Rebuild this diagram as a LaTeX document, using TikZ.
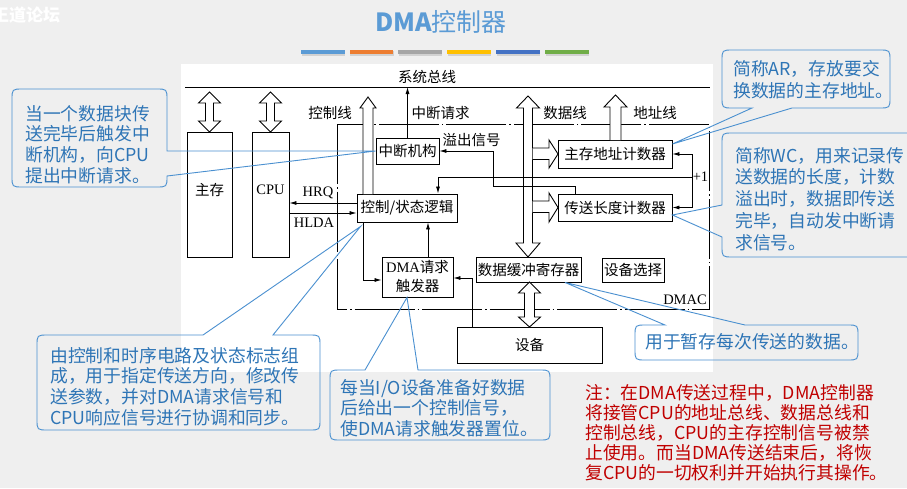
\documentclass[tikz,border=0pt]{standalone}
\usepackage{fontspec}
\setmainfont{Liberation Serif}
\newfontfamily\cjk{Noto Sans CJK SC}
\usetikzlibrary{arrows.meta}
\definecolor{bgc}{HTML}{EFEFEF}
\definecolor{titleblue}{HTML}{5B9BD5}
\definecolor{cbord}{HTML}{4A90D0}
\definecolor{ctext}{HTML}{2E75B6}
\definecolor{notered}{HTML}{C00000}
\definecolor{bar1}{HTML}{5B9BD5}
\definecolor{bar2}{HTML}{ED7D31}
\definecolor{bar3}{HTML}{A5A5A5}
\definecolor{bar4}{HTML}{FFC000}
\definecolor{bar5}{HTML}{4472C4}
\definecolor{bar6}{HTML}{70AD47}
\begin{document}
\begin{tikzpicture}[x=1pt,y=-1pt,
  box/.style={draw, line width=0.9pt, inner sep=0pt, align=center, font=\cjk\fontsize{14.5}{19}\selectfont},
  lbl/.style={inner sep=0pt, font=\cjk\fontsize{14.5}{16}\selectfont},
  rlbl/.style={inner sep=0pt, font=\rmfamily\fontsize{14.5}{16}\selectfont},
  wire/.style={line width=0.8pt},
  arr/.style={wire, -{Latex[length=7pt,width=4pt]}},
  fat/.style={draw, line width=0.9pt, fill=white, line join=miter},
  dmac/.style={line width=0.9pt, dash pattern=on 60pt off 3pt on 1.5pt off 3pt},
  callout/.style={draw=cbord, line width=0.9pt},
  ctxt/.style={inner sep=0pt, anchor=north west, align=left, text=ctext, font=\cjk\fontsize{17.8}{20.7}\selectfont}
]
\useasboundingbox (0,0) rectangle (907,488);
\fill[bgc] (0,0) rectangle (907,488);
\fill[white] (181,64) rectangle (713,372);

% logo and title
\node[anchor=west, inner sep=0pt, text=white, font=\cjk\bfseries\fontsize{17}{17}\selectfont] (logo) at (-8,15) {王道论坛};
\node[inner sep=0pt, text=titleblue, font=\cjk\fontsize{25}{25}\selectfont] (title) at (441,22) {{\bfseries DMA}控制器};
\foreach \i/\x in {1/301,2/349.5,3/398,4/447,5/496,6/545}{
  \fill[black!18] (\x+0.8,51) rectangle ++(43.5,4.5);
  \fill[bar\i] (\x,49.5) rectangle ++(43.5,4.5);
}

% system bus
\coordinate (busL) at (185,87);
\coordinate (busR) at (710,87);
\draw[wire] (busL) -- (busR);
\node[lbl] (sysbus) at (427,77) {系统总线};

% DMAC frame
\draw[dmac] (337,124) rectangle (709,309);
\node[rlbl] (dmaclbl) at (685,300) {DMAC};

% boxes
\node[box, minimum width=45pt, minimum height=125pt] (mem) at (209.5,194.5) {};
\node[lbl] (memlbl) at (209.5,190) {主存};
\node[box, minimum width=37pt, minimum height=125pt] (cpu) at (270.5,194.5) {};
\node[rlbl] (cpulbl) at (270.5,190) {CPU};
\node[box, minimum width=63pt, minimum height=26pt] (intr) at (407.5,151) {中断机构};
\node[box, minimum width=100pt, minimum height=28pt] (ctrl) at (407,208) {控制/状态逻辑};
\node[box, minimum width=114pt, minimum height=28pt] (ar) at (615,154) {主存地址计数器};
\node[box, minimum width=114pt, minimum height=27pt] (wc) at (615,207.5) {传送长度计数器};
\node[box, minimum width=71pt, minimum height=40pt] (dreq) at (417.5,277) {{\rmfamily DMA}请求\\触发器};
\node[box, minimum width=105pt, minimum height=25pt] (buf) at (528.5,269.5) {数据缓冲寄存器};
\node[box, minimum width=62pt, minimum height=24pt] (sel) at (633,270) {设备选择};
\node[box, minimum width=145pt, minimum height=36pt] (dev) at (529.5,345) {设备};

% fat arrows
\draw[fat] (209.5,92) -- (220.5,103) -- (213.5,103) -- (213.5,121) -- (220.5,121) -- (209.5,132) -- (198.5,121) -- (205.5,121) -- (205.5,103) -- (198.5,103) -- cycle;
\draw[fat] (270.5,92) -- (281.5,103) -- (274.5,103) -- (274.5,121) -- (281.5,121) -- (270.5,132) -- (259.5,121) -- (266.5,121) -- (266.5,103) -- (259.5,103) -- cycle;
\draw[fat] (363,194) -- (363,108) -- (360,108) -- (368,97) -- (376,108) -- (373,108) -- (373,194);
\draw[fat] (610,140) -- (610,107) -- (604,107) -- (615.5,95) -- (627,107) -- (621,107) -- (621,140);
\draw[fat] (528,96) -- (539.5,108) -- (532.5,108) -- (532.5,243) -- (540,243) -- (528,257) -- (516,243) -- (523.5,243) -- (523.5,108) -- (516.5,108) -- cycle;
\draw[fat] (532.5,148) -- (549,148) -- (549,140) -- (558,154) -- (549,168) -- (549,159.5) -- (532.5,159.5);
\draw[fat] (532.5,201) -- (549,201) -- (549,193) -- (558,207.5) -- (549,222) -- (549,212.5) -- (532.5,212.5);
\draw[fat] (529.5,282) -- (540.5,293) -- (534.5,293) -- (534.5,317) -- (540.5,317) -- (529.5,327) -- (518.5,317) -- (524.5,317) -- (524.5,293) -- (518.5,293) -- cycle;

% bus labels
\node[lbl] (ctlline) at (330,113) {控制线};
\node[lbl] (intreq) at (440.5,113) {中断请求};
\node[lbl] (datline) at (565,113) {数据线};
\node[lbl] (adrline) at (655,113) {地址线};
\node[lbl] (ovf) at (471.5,140) {溢出信号};
\node[rlbl] (hrq) at (318,193) {HRQ};
\node[rlbl] (hlda) at (314,223) {HLDA};
\node[rlbl] (plus) at (700.5,177) {+1};

% thin connectors
\draw[arr] (intr.north) -- (intr.north |- busL);
\draw[arr] (ctrl.west |- 0,203) -- (cpu.east |- 0,203);
\draw[arr] (cpu.east |- 0,213) -- (ctrl.west |- 0,213);
\draw[arr] (dreq.north -| 428,0) -- (ctrl.south -| 428,0);
\draw[arr] (ctrl.south -| 363,0) |- (dreq.west |- 0,280);
\draw[arr] (dev.north -| 472,0) |- (dreq.east |- 0,278);
\draw[arr] (wc.north -| 575,0) -- (575,186) -| (493,151) -- (intr.east);
\draw[arr] (692,177) -| (ctrl.north -| 438,0);
\draw[wire] (692,154) -- (692,207.5);
\draw[arr] (692,154) -- (ar.east);
\draw[arr] (692,207.5) -- (wc.east);

% callouts
\draw[callout] (23,89) -- (156,89) .. controls (167,89) .. (167,100) -- (167,151) -- (intr.west) -- (167,176) .. controls (167,187) .. (156,187) -- (23,187) .. controls (12,187) .. (12,176) -- (12,100) .. controls (12,89) .. (23,89) -- cycle;
\node[ctxt] (ta) at (25,105) {当一个数据块传\\送完毕后触发中\\断机构，向CPU\\提出中断请求。};

\draw[callout] (733,50) -- (879,50) .. controls (890,50) .. (890,61) -- (890,97) .. controls (890,108) .. (879,108) -- (792,108) -- (ar.east |- 0,144) -- (752,108) -- (733,108) .. controls (722,108) .. (722,97) -- (722,61) .. controls (722,50) .. (733,50) -- cycle;
\node[ctxt, font=\cjk\fontsize{17.8}{22}\selectfont] (tb) at (733,60) {简称AR，存放要交\\换数据的主存地址。};

\draw[callout] (733,133) -- (907,133) .. controls (918,133) .. (918,144) -- (918,246) .. controls (918,257) .. (907,257) -- (733,257) .. controls (722,257) .. (722,246) -- (722,237) -- (wc.east |- 0,215) -- (722,205) -- (722,144) .. controls (722,133) .. (733,133) -- cycle;
\node[ctxt, font=\cjk\fontsize{17.8}{21.7}\selectfont] (tc) at (735,147) {简称WC，用来记录传\\送数据的长度，计数\\溢出时，数据即传送\\完毕，自动发中断请\\求信号。};

\draw[callout] (48,335) -- (203,335) -- ([shift={(4pt,-4pt)}]ctrl.south west) -- (273,335) -- (309,335) .. controls (320,335) .. (320,346) -- (320,419) .. controls (320,430) .. (309,430) -- (48,430) .. controls (37,430) .. (37,419) -- (37,346) .. controls (37,335) .. (48,335) -- cycle;
\node[ctxt] (td) at (50,347) {由控制和时序电路及状态标志组\\成，用于指定传送方向，修改传\\送参数，并对DMA请求信号和\\CPU响应信号进行协调和同步。};

\draw[callout] (341,370) -- (365,370) -- (dreq.south -| 407,0) -- (418,370) -- (539,370) .. controls (550,370) .. (550,381) -- (550,429) .. controls (550,440) .. (539,440) -- (341,440) .. controls (330,440) .. (330,429) -- (330,381) .. controls (330,370) .. (341,370) -- cycle;
\node[ctxt, font=\cjk\fontsize{17.8}{20.5}\selectfont] (te) at (340,379) {每当I/O设备准备好数据\\后给出一个控制信号，\\使DMA请求触发器置位。};

\draw[callout] (646,325) -- (665,325) -- (buf.south -| 565,0) -- (745,325) -- (847,325) .. controls (858,325) .. (858,336) -- (858,349) .. controls (858,360) .. (847,360) -- (646,360) .. controls (635,360) .. (635,349) -- (635,336) .. controls (635,325) .. (646,325) -- cycle;
\node[ctxt] (tf) at (645,333) {用于暂存每次传送的数据。};

% note
\node[ctxt, text=notered, font=\cjk\fontsize{17.8}{20}\selectfont] (note) at (585,384) {注：在DMA传送过程中，DMA控制器\\将接管CPU的地址总线、数据总线和\\控制总线，CPU的主存控制信号被禁\\止使用。而当DMA传送结束后，将恢\\复CPU的一切权利并开始执行其操作。};
\end{tikzpicture}
\end{document}
